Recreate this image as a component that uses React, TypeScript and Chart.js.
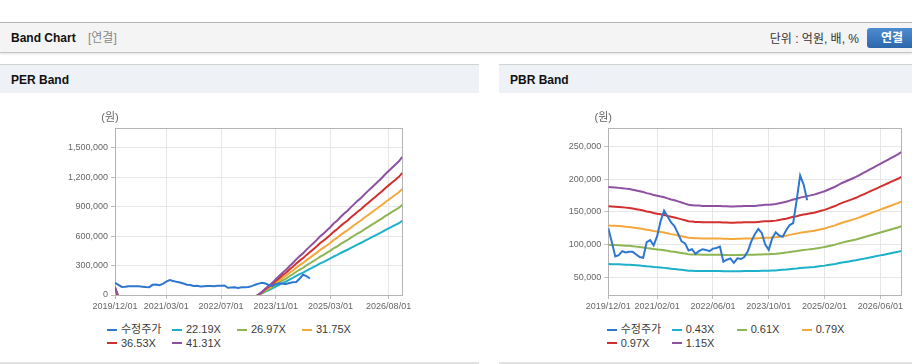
import React, { useEffect, useRef } from 'react';
import { Chart, registerables } from 'chart.js';

Chart.register(...registerables);

const FONT = "'Liberation Sans', 'Noto Sans CJK KR', Arial, sans-serif";
Chart.defaults.font.family = FONT;

// Month index 0 = 2019/12, last index 84 = 2026/12
const firstYear = 2019;
const firstMonth = 12;
const monthCount = 85;

// 수정주가 (원), monthly from 2019/12
const price = [
  125000, 104000, 82000, 84000, 90000, 88000, 89000, 89000, 85000, 81000,
  80000, 104000, 107000, 99000, 113000, 136000, 152000, 143000, 134000, 128000,
  117000, 105000, 102000, 91000, 93000, 86000, 90000, 93000, 92000, 90000,
  94000, 95000, 97000, 74000, 77000, 79000, 72000, 79000, 78000, 81000,
  90000, 105000, 116000, 124000, 118000, 100000, 92000, 110000, 119000, 114000,
  112000, 122000, 130000, 133000, 168000, 206000, 192000, 168000,
];

// EPS basis of the PER band (원), monthly; null where the bands lie below the visible range
const eps = [
  2000, -500, null, null, null, null, null, null, null, null,
  null, null, null, null, null, null, null, null, null, null,
  null, null, null, null, null, null, null, null, null, null,
  null, null, null, null, null, null, null, null, null, null,
  null, -600, 100, 800, 1600, 2300, 3000, 3900, 4700, 5500,
  6200, 7100, 7900, 8800, 9600, 10300, 11200, 12000, 12800, 13600,
  14500, 15200, 16000, 16800, 17700, 18400, 19300, 20100, 20800, 21700,
  22500, 23300, 24000, 24900, 25700, 26500, 27300, 28100, 28900, 29800,
  30600, 31400, 32200, 33000, 34100,
];

// BPS basis of the PBR band (원), monthly
const bps = [
  163500, 163200, 163000, 162500, 162000, 161500, 161000, 160000, 159000, 158000,
  157000, 155500, 154500, 153000, 152000, 151000, 150000, 148500, 147000, 146000,
  144500, 143000, 141500, 140000, 139500, 139000, 139000, 138500, 138500, 138500,
  138500, 138500, 138500, 138000, 138000, 137700, 137700, 138000, 138200, 138500,
  138500, 138500, 138500, 139000, 139500, 140000, 140000, 140500, 141000, 142000,
  143000, 144000, 145500, 147000, 148000, 149500, 150500, 151500, 152500, 153500,
  155000, 156500, 158000, 160000, 162000, 164000, 166500, 169000, 171000, 173000,
  175000, 177000, 179500, 182000, 184500, 187000, 189500, 192000, 194500, 197000,
  199500, 202000, 204500, 207000, 210000,
];

const perMultiples = [22.19, 26.97, 31.75, 36.53, 41.31];
const pbrMultiples = [0.43, 0.61, 0.79, 0.97, 1.15];
const perLabels = ['수정주가', '22.19X', '26.97X', '31.75X', '36.53X', '41.31X'];
const pbrLabels = ['수정주가', '0.43X', '0.61X', '0.79X', '0.97X', '1.15X'];
const seriesColors = ['#2f76cf', '#1cb1c9', '#8db552', '#f4a83b', '#d2302e', '#8e50a0'];

const perXTicks = ['2019/12/01', '2021/03/01', '2022/07/01', '2023/11/01', '2025/03/01', '2026/08/01'];
const pbrXTicks = ['2019/12/01', '2021/02/01', '2022/06/01', '2023/10/01', '2025/02/01', '2026/06/01'];
const perYTicks = [0, 300000, 600000, 900000, 1200000, 1500000];
const pbrYTicks = [50000, 100000, 150000, 200000, 250000];
const perRange = [0, 1700000];
const pbrRange = [23000, 278000];

const monthIndex = (label: string) => {
  const [y, m] = label.split('/').map(Number);
  return (y - firstYear) * 12 + (m - firstMonth);
};

const framePlugin = {
  id: 'bandFrame',
  beforeDatasetsDraw(chart: any) {
    const { ctx, chartArea } = chart;
    const l = Math.round(chartArea.left) + 0.5;
    const t = Math.round(chartArea.top) + 0.5;
    const r = Math.round(chartArea.right) + 0.5;
    const b = Math.round(chartArea.bottom) + 0.5;
    ctx.save();
    ctx.strokeStyle = '#b4b4b4';
    ctx.lineWidth = 1;
    ctx.strokeRect(l, t, r - l, b - t);
    ctx.restore();
  },
  afterDraw(chart: any) {
    const { ctx, chartArea } = chart;
    ctx.save();
    ctx.font = `11px ${FONT}`;
    ctx.fillStyle = '#666';
    ctx.textAlign = 'center';
    ctx.textBaseline = 'middle';
    ctx.fillText('(원)', chartArea.left - 5, chartArea.top - 10);
    ctx.restore();
  },
};

type BandProps = {
  basis: (number | null)[];
  multiples: number[];
  labels: string[];
  xTicks: string[];
  yTicks: number[];
  range: number[];
  width: number;
  height: number;
  axisWidth: number;
  padRight: number;
};

function BandChart(p: BandProps) {
  const ref = useRef<HTMLCanvasElement>(null);
  useEffect(() => {
    if (!ref.current) return;
    const n = p.multiples.length;
    const datasets: any[] = [
      {
        label: p.labels[0],
        data: price.map((v, i) => ({ x: i, y: v })),
        borderColor: seriesColors[0],
        backgroundColor: seriesColors[0],
        order: 0,
      },
      ...p.multiples.map((k, j) => ({
        label: p.labels[j + 1],
        data: p.basis.map((b, i) => ({ x: i, y: b == null ? null : b * k })),
        borderColor: seriesColors[j + 1],
        backgroundColor: seriesColors[j + 1],
        order: n - j,
      })),
    ];
    const chart = new Chart(ref.current, {
      type: 'line',
      data: { datasets },
      plugins: [framePlugin],
      options: {
        animation: false,
        responsive: false,
        events: [],
        layout: { padding: { left: 0, top: 35.3, right: p.padRight, bottom: 0 } },
        plugins: { legend: { display: false }, tooltip: { enabled: false } },
        elements: {
          point: { radius: 0 },
          line: { borderWidth: 2, tension: 0 },
        },
        scales: {
          x: {
            type: 'linear',
            min: 0,
            max: monthCount - 1,
            afterBuildTicks: (s: any) => {
              s.ticks = p.xTicks.map((l) => ({ value: monthIndex(l) }));
            },
            afterFit: (s: any) => {
              s.height = 23;
            },
            ticks: {
              autoSkip: false,
              maxRotation: 0,
              padding: 2,
              color: '#666',
              font: { size: 9 },
              callback: (v: any) => p.xTicks.find((l) => monthIndex(l) === v) ?? '',
            },
            grid: { color: '#e6e6e6', tickLength: 4, tickColor: '#bdbdbd' },
            border: { color: '#b4b4b4' },
          },
          y: {
            type: 'linear',
            min: p.range[0],
            max: p.range[1],
            afterBuildTicks: (s: any) => {
              s.ticks = p.yTicks.map((v) => ({ value: v }));
            },
            afterFit: (s: any) => {
              s.width = p.axisWidth;
            },
            ticks: {
              padding: 3,
              color: '#666',
              font: { size: 9 },
              callback: (v: any) => Number(v).toLocaleString('en-US'),
            },
            grid: { color: '#e6e6e6', tickLength: 4, tickColor: '#bdbdbd' },
            border: { color: '#b4b4b4' },
          },
        },
      } as any,
    });
    return () => chart.destroy();
  }, []);
  return <canvas ref={ref} width={p.width} height={p.height} style={{ display: 'block', width: p.width, height: p.height }} />;
}

function Legend({ labels, left }: { labels: string[]; left: number }) {
  return (
    <div
      style={{
        position: 'absolute',
        left,
        top: 323,
        width: 260,
        display: 'flex',
        flexWrap: 'wrap',
      }}
    >
      {labels.map((l, i) => (
        <div key={l} style={{ width: 65, height: 13.4, display: 'flex', alignItems: 'center' }}>
          <span style={{ display: 'inline-block', width: 10, height: 2, background: seriesColors[i], marginRight: 4 }} />
          <span style={{ fontSize: 11, color: '#3a3a3a', lineHeight: '13px', whiteSpace: 'nowrap' }}>{l}</span>
        </div>
      ))}
    </div>
  );
}

function Panel({ title, left, width, children }: { title: string; left: number; width: number; children?: any }) {
  return (
    <div style={{ position: 'absolute', left, top: 64, width, height: 300 }}>
      <div
        style={{
          position: 'absolute',
          left: 0,
          top: 0,
          width,
          height: 28,
          borderTop: '1px solid #d2d2d2',
          background: '#eef1f6',
        }}
      >
        <span
          style={{
            position: 'absolute',
            left: 11,
            top: 0,
            lineHeight: '30px',
            fontSize: 12,
            fontWeight: 'bold',
            color: '#111',
          }}
        >
          {title}
        </span>
      </div>
      <div style={{ position: 'absolute', left: 0, top: 298, width, height: 2, background: '#e2e2e2' }} />
      {children}
    </div>
  );
}

export default function App() {
  return (
    <div
      style={{
        position: 'absolute',
        left: 0,
        top: 0,
        width: 912,
        height: 364,
        background: '#fff',
        fontFamily: FONT,
        overflow: 'hidden',
      }}
    >
      <div
        style={{
          position: 'absolute',
          left: 0,
          top: 22,
          width: 912,
          height: 29,
          background: '#f4f4f4',
          borderTop: '1px solid #b5b5b5',
          borderBottom: '1px solid #c4c4c4',
          boxShadow: '0 1px 2px rgba(0,0,0,0.12)',
        }}
      >
        <span style={{ position: 'absolute', left: 11, top: 0, lineHeight: '31px', fontSize: 12, fontWeight: 'bold', color: '#111' }}>
          Band Chart
        </span>
        <span style={{ position: 'absolute', left: 88, top: 0, lineHeight: '31px', fontSize: 12, color: '#888' }}>[연결]</span>
        <span style={{ position: 'absolute', right: 53, top: 0, lineHeight: '32px', fontSize: 12, color: '#333' }}>
          단위 : 억원, 배, %
        </span>
        <div
          style={{
            position: 'absolute',
            left: 867,
            top: 5,
            width: 50,
            height: 20,
            borderRadius: 3,
            background: 'linear-gradient(#4d8cd2, #2c67ab)',
            color: '#fff',
            fontWeight: 'bold',
            fontSize: 12,
            lineHeight: '20px',
            textAlign: 'center',
          }}
        >
          연결
        </div>
      </div>

      <Panel title="PER Band" left={0} width={479}>
        <div style={{ position: 'absolute', left: 0, top: 29 }}>
          <BandChart
            basis={eps}
            multiples={perMultiples}
            labels={perLabels}
            xTicks={perXTicks}
            yTicks={perYTicks}
            range={perRange}
            width={479}
            height={225}
            axisWidth={115}
            padRight={76.7}
          />
        </div>
      </Panel>
      <Legend labels={perLabels} left={107} />

      <Panel title="PBR Band" left={499} width={413}>
        <div style={{ position: 'absolute', left: 0, top: 29 }}>
          <BandChart
            basis={bps}
            multiples={pbrMultiples}
            labels={pbrLabels}
            xTicks={pbrXTicks}
            yTicks={pbrYTicks}
            range={pbrRange}
            width={413}
            height={225}
            axisWidth={109.3}
            padRight={10.7}
          />
        </div>
      </Panel>
      <Legend labels={pbrLabels} left={606.7} />
    </div>
  );
}
